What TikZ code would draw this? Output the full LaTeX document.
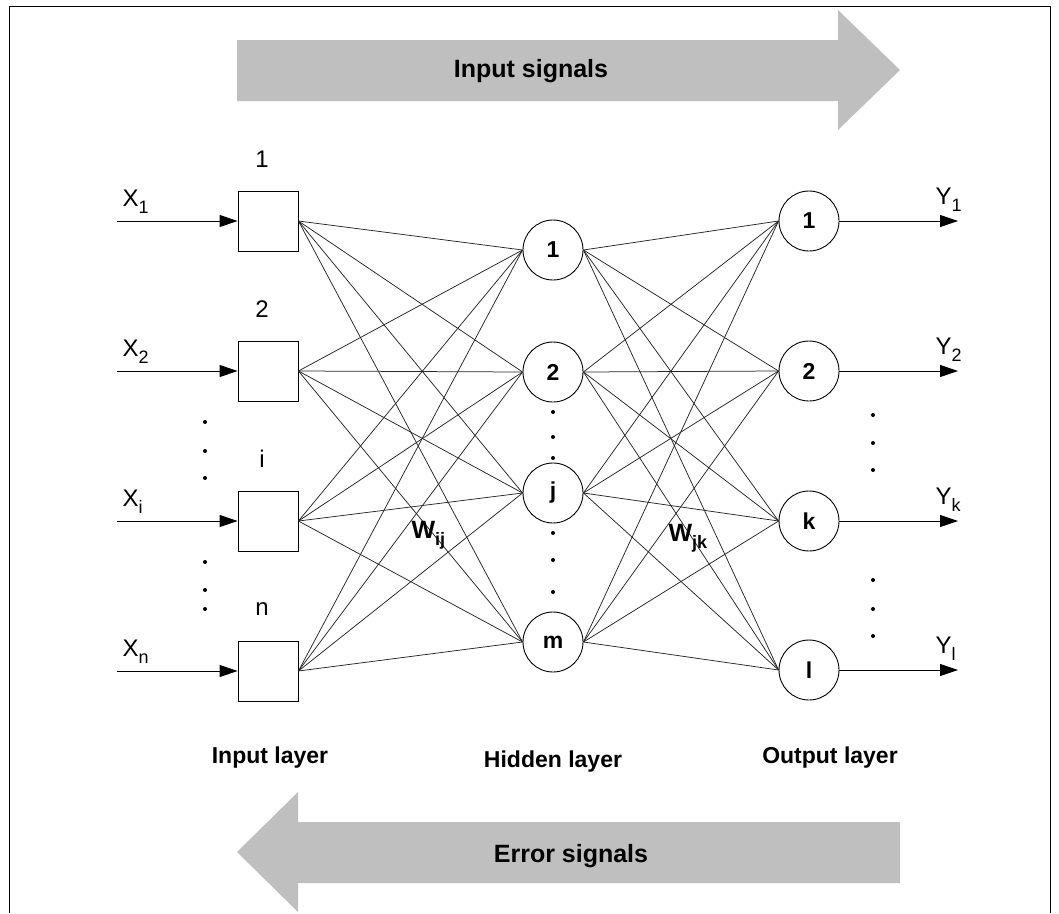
\documentclass[tikz,border=0pt]{standalone}
\usepackage{fontspec}
\setmainfont{Liberation Sans}
\usetikzlibrary{arrows.meta}

% lowered subscript for the signal names
\newcommand{\sub}[1]{\raisebox{-7pt}{\fontsize{18}{18}\selectfont #1}}

\begin{document}
\begin{tikzpicture}[x=1pt,y=-1pt,
    unit/.style={draw,line width=0.9pt,minimum size=60pt,inner sep=0pt,
      font=\fontsize{23}{23}\selectfont\bfseries},
    inbox/.style={unit,rectangle},
    neuron/.style={unit,circle},
    link/.style={line width=0.75pt,black!85},
    sig/.style={line width=0.9pt,-{Triangle[length=18pt,width=12pt]}},
    flow/.style={fill=black!25,draw=none},
    tag/.style={font=\fontsize{24}{24}\selectfont},
    layer/.style={font=\fontsize{23}{23}\selectfont\bfseries,anchor=base},
    weight/.style={font=\fontsize{25}{25}\selectfont\bfseries,anchor=base west},
    dot/.style={fill=black}]

  \useasboundingbox (0,0) rectangle (1059,913);
  \draw[line width=1pt] (9,913) -- (9,6) -- (1050,6) -- (1050,913);

  % forward and backward flow
  \fill[flow] (237,40) -- (838,40) -- (838,10) -- (900,70) -- (838,130)
    -- (838,101) -- (237,101) -- cycle;
  \node[font=\fontsize{25}{25}\selectfont\bfseries,anchor=base] (fwd) at (531,77) {Input signals};
  \fill[flow] (900,822) -- (298,822) -- (298,792) -- (237,852) -- (298,912)
    -- (298,883) -- (900,883) -- cycle;
  \node[font=\fontsize{25}{25}\selectfont\bfseries,anchor=base] (bwd) at (571,862) {Error signals};

  % units
  \foreach \n/\y in {1/221,2/371,i/521,n/671} {
    \node[inbox] (in\n) at (268,\y) {};
    \node[tag] (num\n) at (262,\y-62) {\n};
    \coordinate (x\n) at (117,\y);
    \draw[sig] (x\n) -- (in\n.west);
    \node[tag,anchor=base west] (xl\n) at (119,\y-15) {X\sub{\n}};
  }
  \foreach \n/\y in {1/250,2/372,j/493,m/642}
    \node[neuron] (h\n) at (553,\y) {\n};
  \foreach \n/\y in {1/221,2/371,k/521,l/670} {
    \node[neuron] (o\n) at (809,\y) {\n};
    \coordinate (y\n) at (958,\y);
    \draw[sig] (o\n.east) -- (y\n);
    \node[tag,anchor=base west] (yl\n) at (932,\y-17) {Y\sub{\n}};
  }

  % weights
  \foreach \a in {1,2,i,n}
    \foreach \b in {1,2,j,m}
      \draw[link] (in\a.east) -- (h\b.west);
  \foreach \a in {1,2,j,m}
    \foreach \b in {1,2,k,l}
      \draw[link] (h\a.east) -- (o\b.west);

  \node[weight] (wij) at (408,538) {W\sub{ij}};
  \node[weight] (wjk) at (665,541) {W\sub{jk}};

  % skipped units
  \foreach \x/\y in {205/422,205/451,205/478,205/562,205/590,205/609,
                     553/412,553/437,553/458,553/533,553/560,553/592,
                     873/415,873/443,873/470,873/580,873/609,873/636}
    \fill[dot] (\x,\y) circle (2);

  \node[layer] (lin) at (270,763) {Input layer};
  \node[layer] (lhid) at (553,767) {Hidden layer};
  \node[layer] (lout) at (830,763) {Output layer};
\end{tikzpicture}
\end{document}
